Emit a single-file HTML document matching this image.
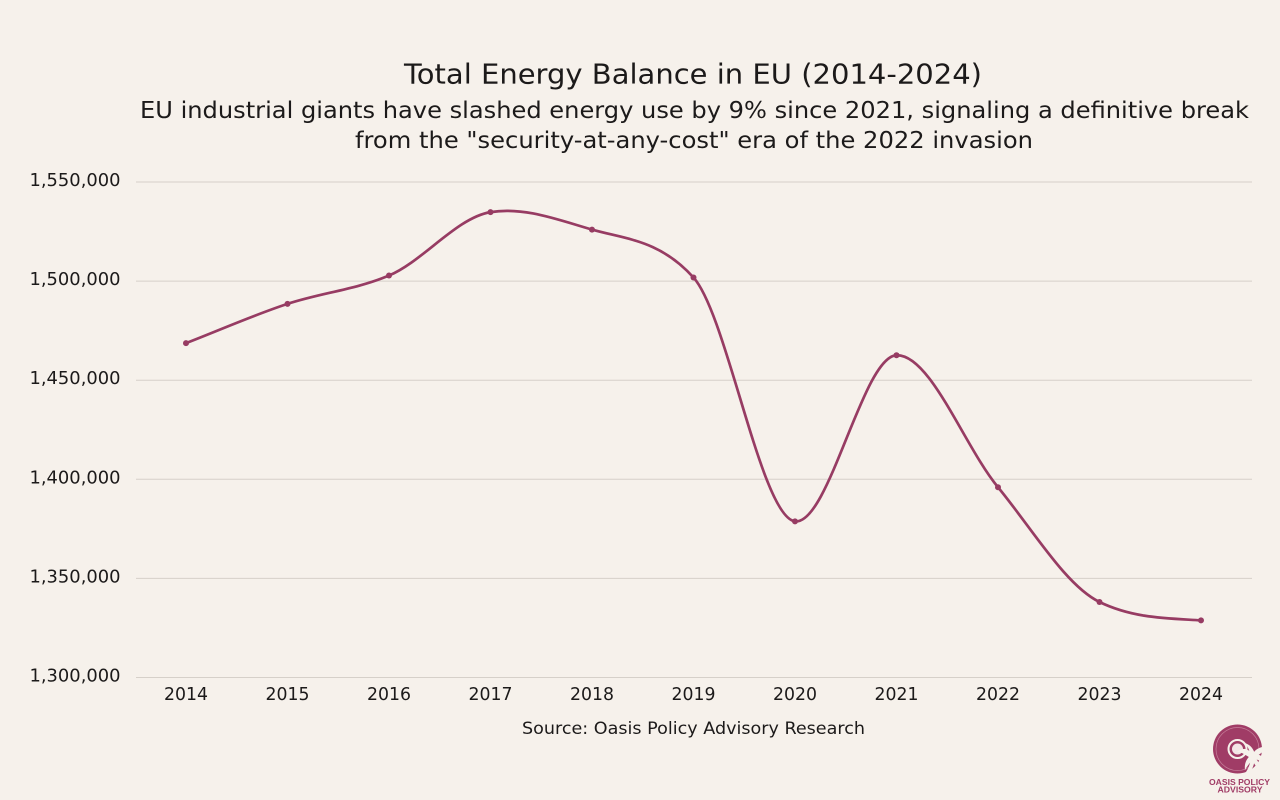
<!DOCTYPE html>
<html lang="en">
<head>
<meta charset="utf-8">
<title>Total Energy Balance in EU (2014-2024)</title>
<style>
html,body{margin:0;padding:0;background:#f6f1eb;width:1280px;height:800px;overflow:hidden}
svg{display:block}
text{font-family:"DejaVu Sans","Liberation Sans",sans-serif;fill:#1c1a1a}
</style>
</head>
<body>
<svg id="chart" xmlns="http://www.w3.org/2000/svg" width="1280" height="800" viewBox="0 0 1280 800">
  <rect width="1280" height="800" fill="#f6f1eb"/>
  <text x="693" y="83.5" text-anchor="middle" font-size="28" textLength="578" lengthAdjust="spacingAndGlyphs">Total Energy Balance in EU (2014-2024)</text>
  <text x="694.5" y="118" text-anchor="middle" font-size="23" textLength="1109" lengthAdjust="spacingAndGlyphs">EU industrial giants have slashed energy use by 9% since 2021, signaling a definitive break</text>
  <text x="694" y="148" text-anchor="middle" font-size="23" textLength="678" lengthAdjust="spacingAndGlyphs">from the "security-at-any-cost" era of the 2022 invasion</text>
  <g id="grid"></g>
  <g id="yticks"></g>
  <g id="xticks"></g>
  <path id="line" fill="none" stroke="#973c63" stroke-width="2.7" stroke-linecap="round"/>
  <g id="points"></g>
  <text x="693.5" y="734" text-anchor="middle" font-size="17" textLength="343" lengthAdjust="spacingAndGlyphs">Source: Oasis Policy Advisory Research</text>
  <g>
    <circle cx="1237.5" cy="749" r="24.5" fill="#a03c66"/>
    <circle cx="1237.5" cy="749" r="21.5" fill="none" stroke="#c77f9b" stroke-width="0.7"/>
    <circle cx="1237.5" cy="749" r="9" fill="none" stroke="#f6f1eb" stroke-width="2"/>
    <circle cx="1237.5" cy="749" r="5.5" fill="#f3e6e6"/>
    <g fill="#f6f1eb">
      <path d="M1246 772 C1250 766 1251 760 1251 753 L1255 753 C1255 761 1254 767 1250 772 Z"/>
      <path d="M1253 755 C1248 748 1243 747 1237 752 C1242 752 1247 756 1252 759 Z"/>
      <path d="M1253 754 C1247 757 1244 763 1245 770 C1248 765 1251 761 1255 758 Z"/>
      <path d="M1252 755 C1255 749 1261 746 1268 747 C1264 751 1259 755 1254 758 Z"/>
      <path d="M1252 754 C1259 753 1265 757 1269 765 C1263 762 1258 760 1253 758 Z"/>
      <path d="M1252 755 C1257 758 1260 764 1260 770 C1256 767 1253 762 1251 758 Z"/>
      <path d="M1250 756 C1250 751 1248 746 1244 743 C1250 744 1254 749 1255 755 Z"/>
    </g>
    <text x="1239.5" y="785" text-anchor="middle" font-size="8.5" font-weight="700" style="font-family:'Liberation Sans',sans-serif;fill:#a03c66" textLength="61" lengthAdjust="spacingAndGlyphs">OASIS POLICY</text>
    <text x="1240" y="792.5" text-anchor="middle" font-size="8.5" font-weight="700" style="font-family:'Liberation Sans',sans-serif;fill:#a03c66" textLength="45" lengthAdjust="spacingAndGlyphs">ADVISORY</text>
  </g>
</svg>
<script>
const years = [2014, 2015, 2016, 2017, 2018, 2019, 2020, 2021, 2022, 2023, 2024];
const energyBalance = [1468700, 1488500, 1502800, 1534800, 1526000, 1501800, 1378800, 1462600, 1396000, 1338100, 1328800];
const yTickValues = [1300000, 1350000, 1400000, 1450000, 1500000, 1550000];
const yTickLabels = ['1,300,000', '1,350,000', '1,400,000', '1,450,000', '1,500,000', '1,550,000'];

const NS = 'http://www.w3.org/2000/svg';
function xScale(year) {
  return 186 + (year - 2014) * (1201 - 186) / 10;
}
function yScale(value) {
  return 677.5 - (value - 1300000) * (677.5 - 182) / 250000;
}
const grid = document.getElementById('grid');
const yticks = document.getElementById('yticks');
const xticks = document.getElementById('xticks');
const pointsGroup = document.getElementById('points');

yTickValues.forEach(function (v, i) {
  const l = document.createElementNS(NS, 'line');
  
  
  l.setAttribute('x1', 136);
  l.setAttribute('x2', 1252);
  l.setAttribute('y1', yScale(v));
  l.setAttribute('y2', yScale(v));
  l.setAttribute('stroke', '#d6d0c9');
  l.setAttribute('stroke-width', '1');
  grid.appendChild(l);
  const t = document.createElementNS(NS, 'text');
  
  
  t.setAttribute('x', 120.5);
  t.setAttribute('y', yScale(v) + 4);
  t.setAttribute('text-anchor', 'end');
  t.setAttribute('font-size', '18');
  t.setAttribute('textLength', '91');
  t.setAttribute('lengthAdjust', 'spacingAndGlyphs');
  t.textContent = yTickLabels[i];
  yticks.appendChild(t);
});

years.forEach(function (yr) {
  const t = document.createElementNS(NS, 'text');
  
  
  t.setAttribute('x', xScale(yr));
  t.setAttribute('y', 700);
  t.setAttribute('text-anchor', 'middle');
  t.setAttribute('font-size', '18');
  t.setAttribute('textLength', '44');
  t.setAttribute('lengthAdjust', 'spacingAndGlyphs');
  t.textContent = String(yr);
  xticks.appendChild(t);
});

const px = years.map(xScale);
const py = energyBalance.map(yScale);
const n = px.length;
function slope(i) {
  if (i === 0) return (py[1] - py[0]) / (px[1] - px[0]);
  if (i === n - 1) return (py[n - 1] - py[n - 2]) / (px[n - 1] - px[n - 2]) * 0.35;
  const a = (py[i] - py[i - 1]) / (px[i] - px[i - 1]);
  const b = (py[i + 1] - py[i]) / (px[i + 1] - px[i]);
  const s = (a + b) / 2;
  if (a * b < 0) {
    const lo = Math.min(Math.abs(a), Math.abs(b));
    const hi = Math.max(Math.abs(a), Math.abs(b));
    return s * (1 - lo / hi);
  }
  const harmonic = 2 * a * b / (a + b);
  return (s + harmonic) / 2;
}
let d = 'M' + px[0] + ' ' + py[0];
for (let i = 0; i < n - 1; i++) {
  const h = (px[i + 1] - px[i]) / 3;
  d += ' C' + (px[i] + h) + ' ' + (py[i] + slope(i) * h) + ' ' +
       (px[i + 1] - h) + ' ' + (py[i + 1] - slope(i + 1) * h) + ' ' +
       px[i + 1] + ' ' + py[i + 1];
}
document.getElementById('line').setAttribute('d', d);

energyBalance.forEach(function (v, i) {
  const c = document.createElementNS(NS, 'circle');
  
  
  c.setAttribute('cx', xScale(years[i]));
  c.setAttribute('cy', yScale(v));
  c.setAttribute('r', '3');
  c.setAttribute('fill', '#973c63');
  pointsGroup.appendChild(c);
});
</script>
</body>
</html>
